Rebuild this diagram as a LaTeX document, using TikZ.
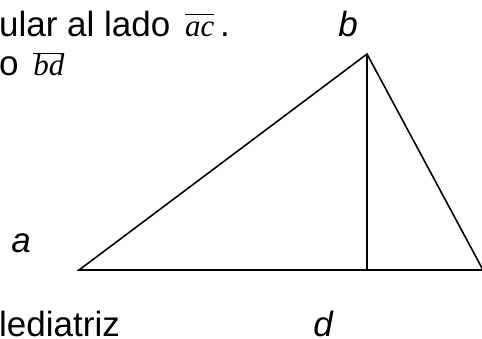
\documentclass[tikz,border=0pt]{standalone}
\usepackage{fontspec}
\setmainfont{Liberation Sans}
\newfontfamily\timesfont{Liberation Serif}
\newcommand{\seg}[1]{\hspace{5pt}$\overline{\hbox{\timesfont\itshape\vphantom{b}#1}}$}

\begin{document}
\begin{tikzpicture}[x=1pt, y=-1pt, every node/.style={inner sep=0pt, font=\fontsize{35}{42}\selectfont}]
    \useasboundingbox (0,0) rectangle (482,339);
    % Vertices
    \coordinate (a) at (79,270);
    \coordinate (b) at (367,54);
    \coordinate (c) at (483,270);
    \coordinate (d) at (367,270);
    % Text
    \node[anchor=base west] (line1) at (-1,37) {ular al lado {\fontsize{31}{36}\selectfont\seg{ac}}\,.};
    \node[anchor=base west] (line2) at (-1,76) {o {\fontsize{31}{36}\selectfont\seg{bd}}};
    \node[anchor=base west] (med) at (-1,336) {lediatriz};
    % Labels
    \node[anchor=base] (lb) at (348,37) {\itshape b};
    \node[anchor=base] (la) at (21,252) {\itshape a};
    \node[anchor=base] (ld) at (323,336) {\itshape d};
    % Triangle
    \draw[line width=1.6pt] (a) -- (b) -- (c) -- cycle;
    \draw[line width=1.6pt] (b) -- (d);
\end{tikzpicture}
\end{document}
